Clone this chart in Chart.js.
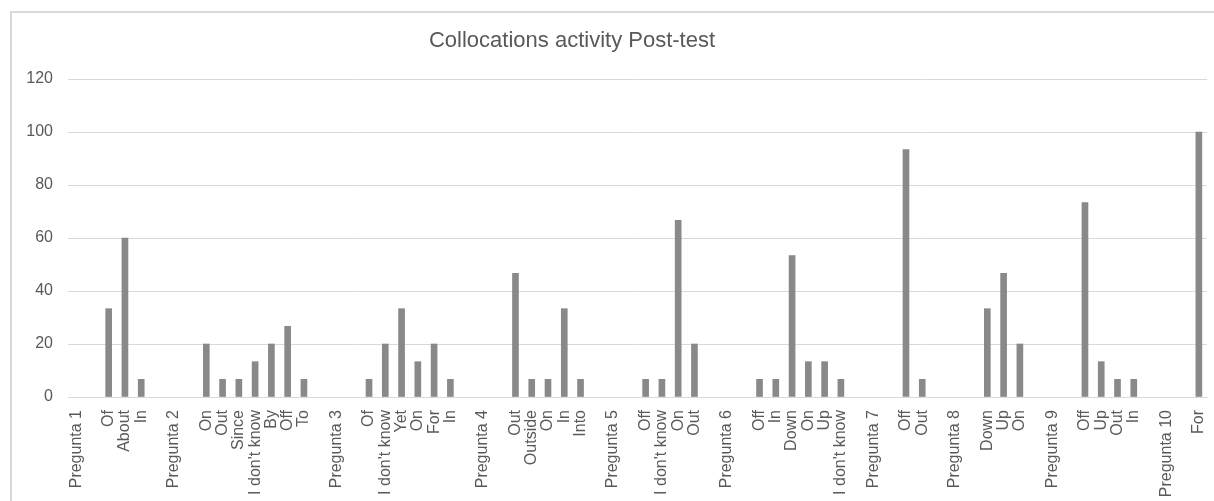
<!DOCTYPE html>
<html>
<head>
<meta charset="utf-8">
<title>Collocations activity Post-test</title>
<script src="https://cdn.jsdelivr.net/npm/chart.js@4.4.1/dist/chart.umd.min.js"></script>
<style>
  html, body { margin: 0; padding: 0; background: #fff; overflow: hidden; }
  #wrap { position: relative; width: 1214px; height: 501px; overflow: hidden; }
  #frame {
    position: absolute; left: 10px; top: 11px; width: 1260px; height: 540px;
    border-top: 2px solid #d9d9d9; border-left: 2px solid #d9d9d9; box-sizing: border-box;
  }
  #chart { position: absolute; left: 0; top: 0; }
</style>
</head>
<body>
<div id="wrap">
  <div id="frame"></div>
  <canvas id="chart" width="1214" height="501"></canvas>
</div>
<script>
// --- DATA ---
const TITLE = "Collocations activity Post-test";

// blank entries are the spacer columns the sheet leaves around each question
const labels = [
  "Pregunta 1", "", "Of", "About", "In", "",
  "Pregunta 2", "", "On", "Out", "Since", "I don't know", "By", "Off", "To", "",
  "Pregunta 3", "", "Of", "I don't know", "Yet", "On", "For", "In", "",
  "Pregunta 4", "", "Out", "Outside", "On", "In", "Into", "",
  "Pregunta 5", "", "Off", "I don't know", "On", "Out", "",
  "Pregunta 6", "", "Off", "In", "Down", "On", "Up", "I don't know", "",
  "Pregunta 7", "", "Off", "Out", "",
  "Pregunta 8", "", "Down", "Up", "On", "",
  "Pregunta 9", "", "Off", "Up", "Out", "In", "",
  "Pregunta 10", "", "For"
];

const values = [
  null, null, 33.33, 60, 6.67, null,
  null, null, 20, 6.67, 6.67, 13.33, 20, 26.67, 6.67, null,
  null, null, 6.67, 20, 33.33, 13.33, 20, 6.67, null,
  null, null, 46.67, 6.67, 6.67, 33.33, 6.67, null,
  null, null, 6.67, 6.67, 66.67, 20, null,
  null, null, 6.67, 6.67, 53.33, 13.33, 13.33, 6.67, null,
  null, null, 93.33, 6.67, null,
  null, null, 33.33, 46.67, 20, null,
  null, null, 73.33, 13.33, 6.67, 6.67, null,
  null, null, 100
];

const yTicks = [0, 20, 40, 60, 80, 100, 120];

(function () {
  const FONT = '"Liberation Sans", Arial, sans-serif';
  const TEXT = "#595959";
  const GRID = "#d9d9d9";

  // title sits left of centre in the original, so draw it ourselves
  const titlePlugin = {
    id: "sheetTitle",
    afterDraw(chart) {
      const ctx = chart.ctx;
      ctx.save();
      ctx.font = "22px " + FONT;
      ctx.fillStyle = TEXT;
      ctx.textAlign = "center";
      ctx.textBaseline = "alphabetic";
      ctx.fillText(TITLE, 572, 47);
      ctx.restore();
    }
  };

  new Chart(document.getElementById("chart"), {
    type: "bar",
    data: {
      labels,
      datasets: [{
        label: "Post-test",
        data: values,
        backgroundColor: "#898989",
        borderWidth: 0,
        barThickness: 6
      }]
    },
    options: {
      responsive: false,
      animation: false,
      layout: { padding: { top: 79, right: 7, left: 0, bottom: 0 } },
      plugins: { legend: { display: false }, tooltip: { enabled: false } },
      scales: {
        x: {
          grid: { display: false, drawTicks: false },
          border: { display: true, color: GRID, width: 1 },
          ticks: {
            autoSkip: false, maxRotation: 90, minRotation: 90, padding: 13,
            color: TEXT, font: { family: FONT, size: 16 }
          },
          afterFit: (s) => {
            s.height = 104;
            // rotated labels would otherwise pull the plot edges in
            s.paddingLeft = 0;
            s.paddingRight = 0;
          }
        },
        y: {
          min: 0, max: 120,
          grid: { color: GRID, lineWidth: 1, drawTicks: false },
          border: { display: false },
          afterBuildTicks: (s) => { s.ticks = yTicks.map(v => ({ value: v })); },
          ticks: { padding: 15, color: TEXT, font: { family: FONT, size: 16 } },
          afterFit: (s) => { s.width = 68; }
        }
      }
    },
    plugins: [titlePlugin]
  });
})();
</script>
</body>
</html>
